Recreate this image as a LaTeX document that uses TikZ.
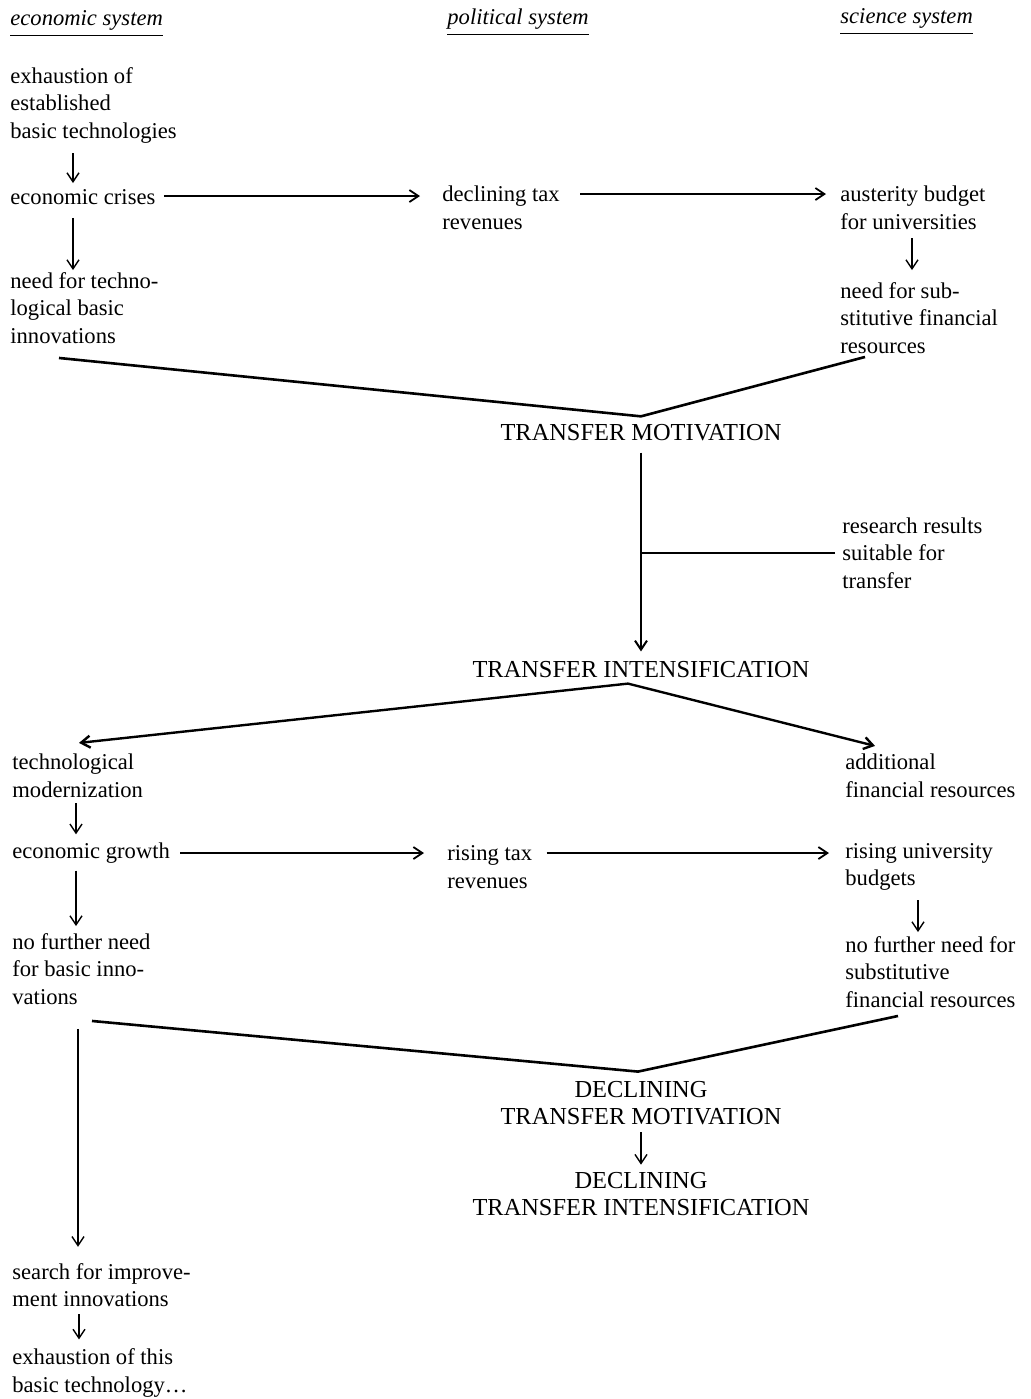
\documentclass[tikz,border=0pt]{standalone}
\usepackage{fontspec}
\setmainfont{Liberation Serif}
\usetikzlibrary{positioning,calc,arrows,arrows.meta}
\tikzset {
    style T/.style={
        font=\fontsize{11.3}{13.75}\selectfont,
        align=left,
        anchor=west,
        inner sep=0pt,
    },
    style C/.style={
        font=\fontsize{12.2}{13.75}\selectfont,
        align=center,
        inner sep=0pt,
    },
    style H/.style={
        font=\fontsize{11.3}{13.75}\selectfont\itshape,
        anchor=west,
        inner sep=0pt,
    },
    style V/.style={
        draw=black,
        line width=1.3pt,
    },
}

\begin{document}
\begin{tikzpicture}
[x=0.5pt, y=-0.5pt, >={Straight Barb[length=4.5pt, width=6pt]}, arr/.style={->, line width=0.7pt}, harr/.style={->, line width=0.9pt}]
\useasboundingbox (0,0) rectangle (1030,1399);

\node[style H] at (10, 20) (econ) {economic system};
\node[style H] at (447, 19) (pol) {political system};
\node[style H] at (840, 18) (sci) {science system};

\node[style T] at (10, 105) (exhaust) {exhaustion of\\established\\basic technologies};
\node[style T] at (10, 197) (crises) {economic crises};
\node[style T] at (10, 308) (needtech) {need for techno-\\logical basic\\innovations};
\node[style T] at (442, 208) (taxdecl) {declining tax\\revenues};
\node[style T] at (840, 208) (auster) {austerity budget\\for universities};
\node[style T] at (840, 318) (needsub) {need for sub-\\stitutive financial\\resources};
\node[style C] at (641, 433) (tmot) {TRANSFER MOTIVATION};
\node[style T] at (842, 553) (research) {research results\\suitable for\\transfer};
\node[style C] at (641, 670) (tint) {TRANSFER INTENSIFICATION};
\node[style T] at (12, 776) (techmod) {technological\\modernization};
\node[style T] at (845, 776) (addfin) {additional\\financial resources};
\node[style T] at (12, 853) (growth) {economic growth};
\node[style T] at (447, 867) (risetax) {rising tax\\revenues};
\node[style T] at (845, 867) (riseuni) {rising university\\budgets};
\node[style T] at (12, 969) (nofurther) {no further need\\for basic inno-\\vations};
\node[style T] at (845, 972) (nofsub) {no further need for\\substitutive\\financial resources};
\node[style C] at (641, 1103) (dtmot) {DECLINING\\TRANSFER MOTIVATION};
\node[style C] at (641, 1194) (dtint) {DECLINING\\TRANSFER INTENSIFICATION};
\node[style T] at (12, 1285) (search) {search for improve-\\ment innovations};
\node[style T] at (12, 1373) (exhthis) {exhaustion of this\\basic technology\dots};

\foreach \n in {econ, pol, sci}
    \draw[line width=0.8pt] ($(\n.south west)+(0,5)$) -- ($(\n.south east)+(0,5)$);

\coordinate (vtop) at ($(tmot.north)+(0,-8)$);
\coordinate (vmid) at ($(tint.south)+(-13,5)$);
\coordinate (vlow) at ($(dtmot.north)+(-3,-9)$);

\draw[arr] ($(exhaust.south west)+(63,10)$) -- ($(crises.north west)+(63,-6)$);
\draw[arr] ($(crises.south west)+(63,13)$) -- ($(needtech.north west)+(63,-2)$);
\draw[harr] ($(crises.east)+(8,-1)$) -- ($(crises.east -| taxdecl.west)+(-22,-1)$);
\draw[harr] ($(taxdecl.east)+(20,-14)$) -- ($(auster.west)+(-14,-14)$);
\draw[arr] ($(auster.south west)+(72,8)$) -- ($(needsub.north west)+(72,-12)$);
\draw[style V] ($(needtech.south west)+(49,14)$) -- (vtop) -- ($(needsub.south west)+(25,3)$);
\draw[->, line width=1pt] ($(tmot.south)+(0,11)$) -- ($(tint.north)+(0,-10)$);
\draw[line width=0.9pt] ($(research.west)+(-7,0)$) -- (research.west -| tmot.south);
\draw[->, line width=1.2pt] (vmid) -- ($(techmod.north west)+(67,-11)$);
\draw[->, line width=1.2pt] (vmid) -- ($(addfin.north west)+(30,-8)$);
\draw[arr] ($(techmod.south west)+(64,5)$) -- ($(growth.north west)+(64,-8)$);
\draw[harr] ($(growth.east)+(10,0)$) -- ($(growth.east -| risetax.west)+(-23,0)$);
\draw[harr] ($(risetax.east)+(14,-14)$) -- ($(riseuni.west)+(-16,-14)$);
\draw[arr] ($(riseuni.south west)+(73,9)$) -- ($(nofsub.north west)+(73,-4)$);
\draw[arr] ($(growth.south west)+(64,7)$) -- ($(nofurther.north west)+(64,-7)$);
\draw[style V] ($(nofurther.south west)+(80,16)$) -- (vlow) -- ($(nofsub.south west)+(53,8)$);
\draw[arr] ($(dtmot.south)+(0,7)$) -- ($(dtint.north)+(0,-7)$);
\draw[arr] ($(nofurther.south west)+(66,24)$) -- ($(search.north west)+(66,-16)$);
\draw[arr] ($(search.south west)+(67,7)$) -- ($(exhthis.north west)+(67,-9)$);
\end{tikzpicture}
\end{document}
